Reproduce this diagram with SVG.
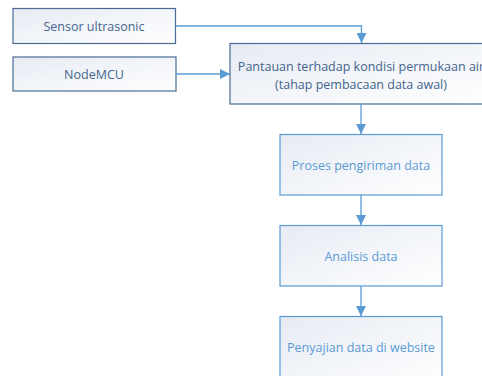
<svg xmlns="http://www.w3.org/2000/svg" width="482" height="376" viewBox="0 0 482 376">
<defs>
<linearGradient id="g" x1="0" y1="0" x2="1" y2="1">
<stop offset="0" stop-color="#e6ebf3"/>
<stop offset="1" stop-color="#ffffff"/>
</linearGradient>
<marker id="a" viewBox="0 0 10 10" refX="10" refY="5" markerWidth="10" markerHeight="10" markerUnits="userSpaceOnUse" orient="auto">
<path d="M0,0 L10,5 L0,10 z" fill="#5b9bd5"/>
</marker>
<style>
.dk rect{fill:url(#g);stroke:#4a6b93;stroke-width:1.2}
.lt rect{fill:url(#g);stroke:#5b9bd5;stroke-width:1.2}
text{font-family:"Open Sans","Liberation Sans",sans-serif;font-size:12.5px;text-anchor:middle;dominant-baseline:central}
.dk text{fill:#44648c}
.lt text{fill:#5b9bd5}
.c path{fill:none;stroke:#5b9bd5;stroke-width:1.3}
</style>
</defs>
<rect width="482" height="376" fill="#ffffff"/>
<g id="sensor" class="dk"><rect x="13" y="8.5" width="162.5" height="35"/><text x="94" y="26">Sensor ultrasonic</text></g>
<g id="nodemcu" class="dk"><rect x="13" y="57" width="163" height="34"/><text x="94" y="74">NodeMCU</text></g>
<g id="pantauan" class="dk"><rect x="230" y="43.5" width="262" height="60.5"/><text x="361" y="66">Pantauan terhadap kondisi permukaan air</text><text x="361" y="84">(tahap pembacaan data awal)</text></g>
<g id="proses" class="lt"><rect x="280" y="134.5" width="162" height="60.5"/><text x="361" y="165">Proses pengiriman data</text></g>
<g id="analisis" class="lt"><rect x="280" y="225.5" width="162" height="60.5"/><text x="361" y="256">Analisis data</text></g>
<g id="penyajian" class="lt"><rect x="280" y="316.5" width="162" height="70"/><text x="361" y="347">Penyajian data di website</text></g>
<g id="connectors" class="c">
<path d="M175.5,26 H361.5 V43" marker-end="url(#a)"/>
<path d="M176,74 H230" marker-end="url(#a)"/>
<path d="M361,104 V134" marker-end="url(#a)"/>
<path d="M361,195 V225" marker-end="url(#a)"/>
<path d="M361,286 V316" marker-end="url(#a)"/>
</g>
</svg>
